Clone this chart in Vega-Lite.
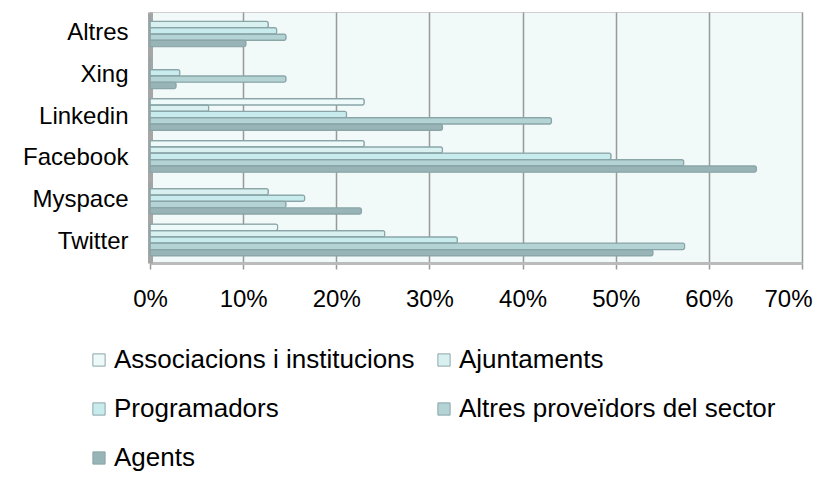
{
  "$schema": "https://vega.github.io/schema/vega-lite/v6.json",
  "width": 652,
  "height": 251,
  "autosize": {"type": "none"},
  "padding": {"left": 150, "top": 12, "right": 25, "bottom": 216},
  "background": "white",
  "config": {
    "font": "Liberation Sans",
    "view": {"fill": "#f1f9f9", "stroke": "#d0d0d0", "strokeWidth": 1}
  },
  "data": {
    "values": [
      {"platform": "Twitter", "group": "Associacions i institucions", "value": 13.7},
      {"platform": "Twitter", "group": "Ajuntaments", "value": 25.2},
      {"platform": "Twitter", "group": "Programadors", "value": 33.0},
      {"platform": "Twitter", "group": "Altres proveïdors del sector", "value": 57.4},
      {"platform": "Twitter", "group": "Agents", "value": 54.0},
      {"platform": "Myspace", "group": "Associacions i institucions", "value": 0},
      {"platform": "Myspace", "group": "Ajuntaments", "value": 12.7},
      {"platform": "Myspace", "group": "Programadors", "value": 16.6},
      {"platform": "Myspace", "group": "Altres proveïdors del sector", "value": 14.6},
      {"platform": "Myspace", "group": "Agents", "value": 22.7},
      {"platform": "Facebook", "group": "Associacions i institucions", "value": 23.0},
      {"platform": "Facebook", "group": "Ajuntaments", "value": 31.4},
      {"platform": "Facebook", "group": "Programadors", "value": 49.5},
      {"platform": "Facebook", "group": "Altres proveïdors del sector", "value": 57.3},
      {"platform": "Facebook", "group": "Agents", "value": 65.1},
      {"platform": "Linkedin", "group": "Associacions i institucions", "value": 23.0},
      {"platform": "Linkedin", "group": "Ajuntaments", "value": 6.3},
      {"platform": "Linkedin", "group": "Programadors", "value": 21.1},
      {"platform": "Linkedin", "group": "Altres proveïdors del sector", "value": 43.1},
      {"platform": "Linkedin", "group": "Agents", "value": 31.4},
      {"platform": "Xing", "group": "Associacions i institucions", "value": 0},
      {"platform": "Xing", "group": "Ajuntaments", "value": 0},
      {"platform": "Xing", "group": "Programadors", "value": 3.2},
      {"platform": "Xing", "group": "Altres proveïdors del sector", "value": 14.6},
      {"platform": "Xing", "group": "Agents", "value": 2.8},
      {"platform": "Altres", "group": "Associacions i institucions", "value": 0},
      {"platform": "Altres", "group": "Ajuntaments", "value": 12.7},
      {"platform": "Altres", "group": "Programadors", "value": 13.6},
      {"platform": "Altres", "group": "Altres proveïdors del sector", "value": 14.6},
      {"platform": "Altres", "group": "Agents", "value": 10.3}
    ]
  },
  "mark": {"type": "bar", "stroke": "#8aa5a8", "strokeWidth": 1.2, "cornerRadiusEnd": 2},
  "encoding": {
    "y": {
      "field": "platform",
      "type": "nominal",
      "sort": ["Altres", "Xing", "Linkedin", "Facebook", "Myspace", "Twitter"],
      "scale": {"paddingInner": 0, "paddingOuter": 0},
      "axis": {
        "title": null,
        "labelFontSize": 24,
        "labelColor": "#000000",
        "ticks": false,
        "labelPadding": 22,
        "domainColor": "#a6a6a6",
        "domainWidth": 5
      }
    },
    "yOffset": {
      "field": "group",
      "type": "nominal",
      "sort": ["Associacions i institucions", "Ajuntaments", "Programadors", "Altres proveïdors del sector", "Agents"],
      "scale": {"paddingInner": 0, "paddingOuter": 0.8, "align": 0.3}
    },
    "x": {
      "field": "value",
      "type": "quantitative",
      "scale": {"domain": [0, 70]},
      "axis": {
        "title": null,
        "values": [0, 10, 20, 30, 40, 50, 60, 70],
        "labelExpr": "datum.value + '%'",
        "labelFlush": false,
        "labelOffset": {"expr": "datum.value == 70 ? -14 : 0"},
        "grid": true,
        "gridColor": "#999999",
        "gridWidth": 1.5,
        "labelFontSize": 24,
        "labelColor": "#000000",
        "tickColor": "#999999",
        "tickSize": 6,
        "tickWidth": 1.5,
        "labelPadding": 18,
        "domainColor": "#bbbbbb",
        "domainWidth": 3
      }
    },
    "color": {
      "field": "group",
      "type": "nominal",
      "scale": {
        "domain": ["Associacions i institucions", "Ajuntaments", "Programadors", "Altres proveïdors del sector", "Agents"],
        "range": ["#eef9f9", "#d9f0f1", "#c8ecee", "#b3d3d5", "#98b4b6"]
      },
      "legend": {
        "title": null,
        "orient": "none",
        "direction": "horizontal",
        "legendX": -64,
        "legendY": 335,
        "columns": 2,
        "columnPadding": 16,
        "rowPadding": 23,
        "labelFontSize": 26,
        "labelLimit": 500,
        "labelColor": "#000000",
        "labelOffset": 2,
        "symbolType": "square",
        "symbolSize": 150,
        "symbolStrokeColor": "#8aa5a8",
        "symbolStrokeWidth": 1
      }
    }
  }
}
